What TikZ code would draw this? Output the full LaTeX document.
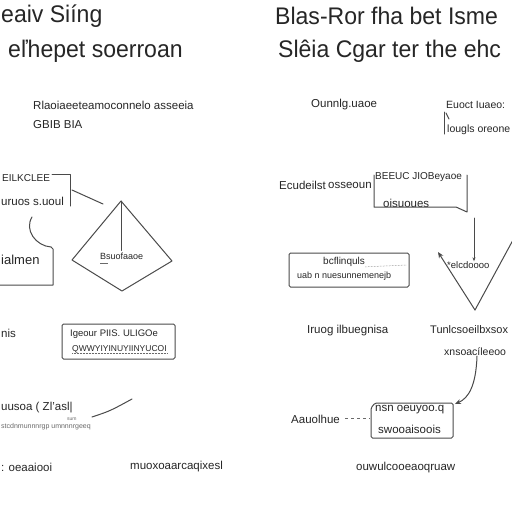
\documentclass[tikz,border=0pt]{standalone}
\usepackage{fontspec}
\setmainfont{Liberation Sans}
\usetikzlibrary{calc,arrows.meta}
\definecolor{bg}{HTML}{FFFFFF}
\definecolor{ink}{HTML}{262626}
\definecolor{wire}{HTML}{4A4A4A}
\definecolor{muted}{HTML}{6A6A6A}
\tikzset{
  base/.style={draw=wire, line width=1pt, line cap=round, line join=round},
  arr/.style={base, -{Stealth[length=6pt,width=5pt]}},
  help/.style={draw=muted, dashed, line width=0.7pt},
  box/.style={base, rounded corners=1.5pt},
  title/.style={text=ink, font=\fontsize{24}{26}\selectfont, inner sep=0pt, anchor=west, xscale=0.96},
  lab/.style={text=ink, font=\fontsize{11.5}{12}\selectfont, inner sep=0pt, anchor=west},
  labb/.style={text=ink, font=\fontsize{13}{14}\selectfont, inner sep=0pt, anchor=west},
  labs/.style={text=muted, font=\fontsize{7}{8}\selectfont, inner sep=0pt, anchor=west},
}
\begin{document}
\begin{tikzpicture}[x=1pt,y=-1pt]
  \useasboundingbox[fill=bg] (0,0) rectangle (512,512);

  % titles
  \node[title] (tl1) at (1,16) {eaiv Siíng};
  \node[title] (tl2) at (8,51) {eľhepet soerroan};
  \node[title] (tr1) at (275,16) {Blas-Ror fha bet Isme};
  \node[title] (tr2) at (278,51) {Slêia Cgar ter the ehc};

  % LEFT column
  \node[lab] (lhead) at (33,105) {Rlaoiaeeteamoconnelo asseeia};
  \node[lab] (lsub) at (33,125) {GBIB BIA};

  \node[lab, font=\fontsize{10}{11}\selectfont] (b1a) at (2,178) {EILKCLEE};
  \node[lab] (b1b) at (1,201) {uruos s.uoul};
  \draw[base] (b1a.east |- 0,174) ++(2,0) -- (70,174) -- (70,206);
  \coordinate (b1r) at (72,190);
  \coordinate (dup) at (103,204);
  \draw[base] (b1r) -- (dup);

  % diamond
  \coordinate (dt) at (121,201);
  \coordinate (dl) at (72,260);
  \coordinate (db) at (122,291);
  \coordinate (dr) at (172,261);
  \draw[base] (dt) -- (dl) -- (db) -- (dr) -- cycle;
  \node[lab, font=\fontsize{9}{10}\selectfont] (dtext) at (100,256) {Bsuofaaoe};
  \draw[base] (dt) -- ($(dt |- dtext.north)+(0,-2)$);
  \draw[draw=muted, line width=0.5pt] (100,263) -- (108,263);

  % arc and lower bracket box
  \coordinate (arcA) at (32,217);
  \coordinate (arcB) at (51,247);
  \draw[base] (arcA) .. controls (24,230) and (36,246) .. (arcB);
  \draw[base] (arcB) -- (53,249) -- (53,285) -- (0,285);
  \node[labb] (b2) at (1,260) {ialmen};

  \node[lab] (lmid) at (1,333) {nis};
  \node[box, minimum width=113pt, minimum height=35pt, inner sep=0pt] (b3) at (118.5,341.5) {};
  \node[lab, font=\fontsize{9.5}{10}\selectfont] (b3a) at (70,334) {Igeour PIIS. ULIGOe};
  \node[lab, font=\fontsize{8.5}{9}\selectfont] (b3b) at (72,349) {QWWYIYINUYIINYUCOI};
  \draw[draw=muted, line width=0.5pt, densely dotted] (b3b.south west) -- (b3b.south east);

  \node[lab] (l4a) at (1,408) {uusoa ( Zl'asl|};
  \node[labs] (l4b) at (1,427) {stcdnmunnnrgp umnnnrgeeq};
  \node[labs, font=\fontsize{5}{6}\selectfont] (l4c) at (67,419) {sum};
  \coordinate (swA) at (92,417);
  \coordinate (swB) at (132,399);
  \draw[base] (swA) .. controls (110,411) .. (swB);

  \node[lab] (lbot1) at (1,467) {: oeaaiooi};
  \node[lab] (lbot2) at (130,467) {muoxoaarcaqixesl};

  % RIGHT column
  \node[lab] (rhead) at (311,105) {Ounnlg.uaoe};
  \node[lab, font=\fontsize{10.5}{11}\selectfont] (r1a) at (446,105) {Euoct Iuaeo:};
  \node[lab, font=\fontsize{10.5}{11}\selectfont] (r1b) at (447,130) {lougls oreone};
  \draw[base] (444,112) -- (444,134);
  \draw[base] (446,113) -- (449,119);

  \node[lab] (r2a) at (279,185) {Ecudeilst};
  \node[lab] (r2b) at (328,185) {osseoun};
  \node[lab, font=\fontsize{10}{11}\selectfont] (b4a) at (375,177) {BEEUC JIOBeyaoe};
  \node[lab] (b4b) at (383,203) {oisuoues};
  \draw[base] (374,175) -- (374,207) -- (456,207) -- (467,212) -- (467,175);

  \node[box, minimum width=120pt, minimum height=34pt, inner sep=0pt] (b5) at (349,270) {};
  \node[lab, font=\fontsize{10}{11}\selectfont] (b5a) at (323,262) {bcflinquls};
  \draw[draw=muted, line width=0.5pt, densely dotted] (b5a.south east) -- (407,265);
  \node[lab, font=\fontsize{9}{10}\selectfont] (b5b) at (297,276) {uab n nuesunnemenejb};

  % funnel
  \coordinate (vtop) at (474,218);
  \node[lab, font=\fontsize{9.5}{10}\selectfont] (ftext) at (447,265) {*elcdoooo};
  \draw[base, -{Stealth[length=4pt,width=3pt]}] (vtop) -- (ftext.north -| vtop);
  \coordinate (fl) at (438,252);
  \coordinate (fb) at (475,310);
  \coordinate (fr) at (513,240);
  \draw[arr] (fb) -- (fl);
  \draw[base] (fb) -- (fr);

  \node[lab] (r3a) at (307,331) {Iruog ilbuegnisa};
  \node[lab, font=\fontsize{11}{12}\selectfont] (r3b) at (430,330) {Tunlcsoeilbxsox};
  \node[lab, font=\fontsize{10.5}{11}\selectfont] (r3c) at (444,352) {xnsoacíleeoo};

  \draw[box] (371,438) -- (371,408) -- (375,403) -- (453,403) -- (453,438) -- cycle;
  \coordinate (b6w) at (370,418);
  \coordinate (b6c) at (455,404);
  \node[lab] (b6a) at (375,410) {nsn oeuyoo.q};
  \node[lab] (b6b) at (378,429) {swooaisoois};
  \draw[arr] (r3c.south -| 477,0) .. controls (476,385) and (469,398) .. (b6c);

  \node[lab] (r4) at (291,419) {Aauolhue};
  \draw[help] (r4.east) ++(5,-1) -- (b6w);

  \node[lab] (rbot) at (356,468) {ouwulcooeaoqruaw};
\end{tikzpicture}
\end{document}
